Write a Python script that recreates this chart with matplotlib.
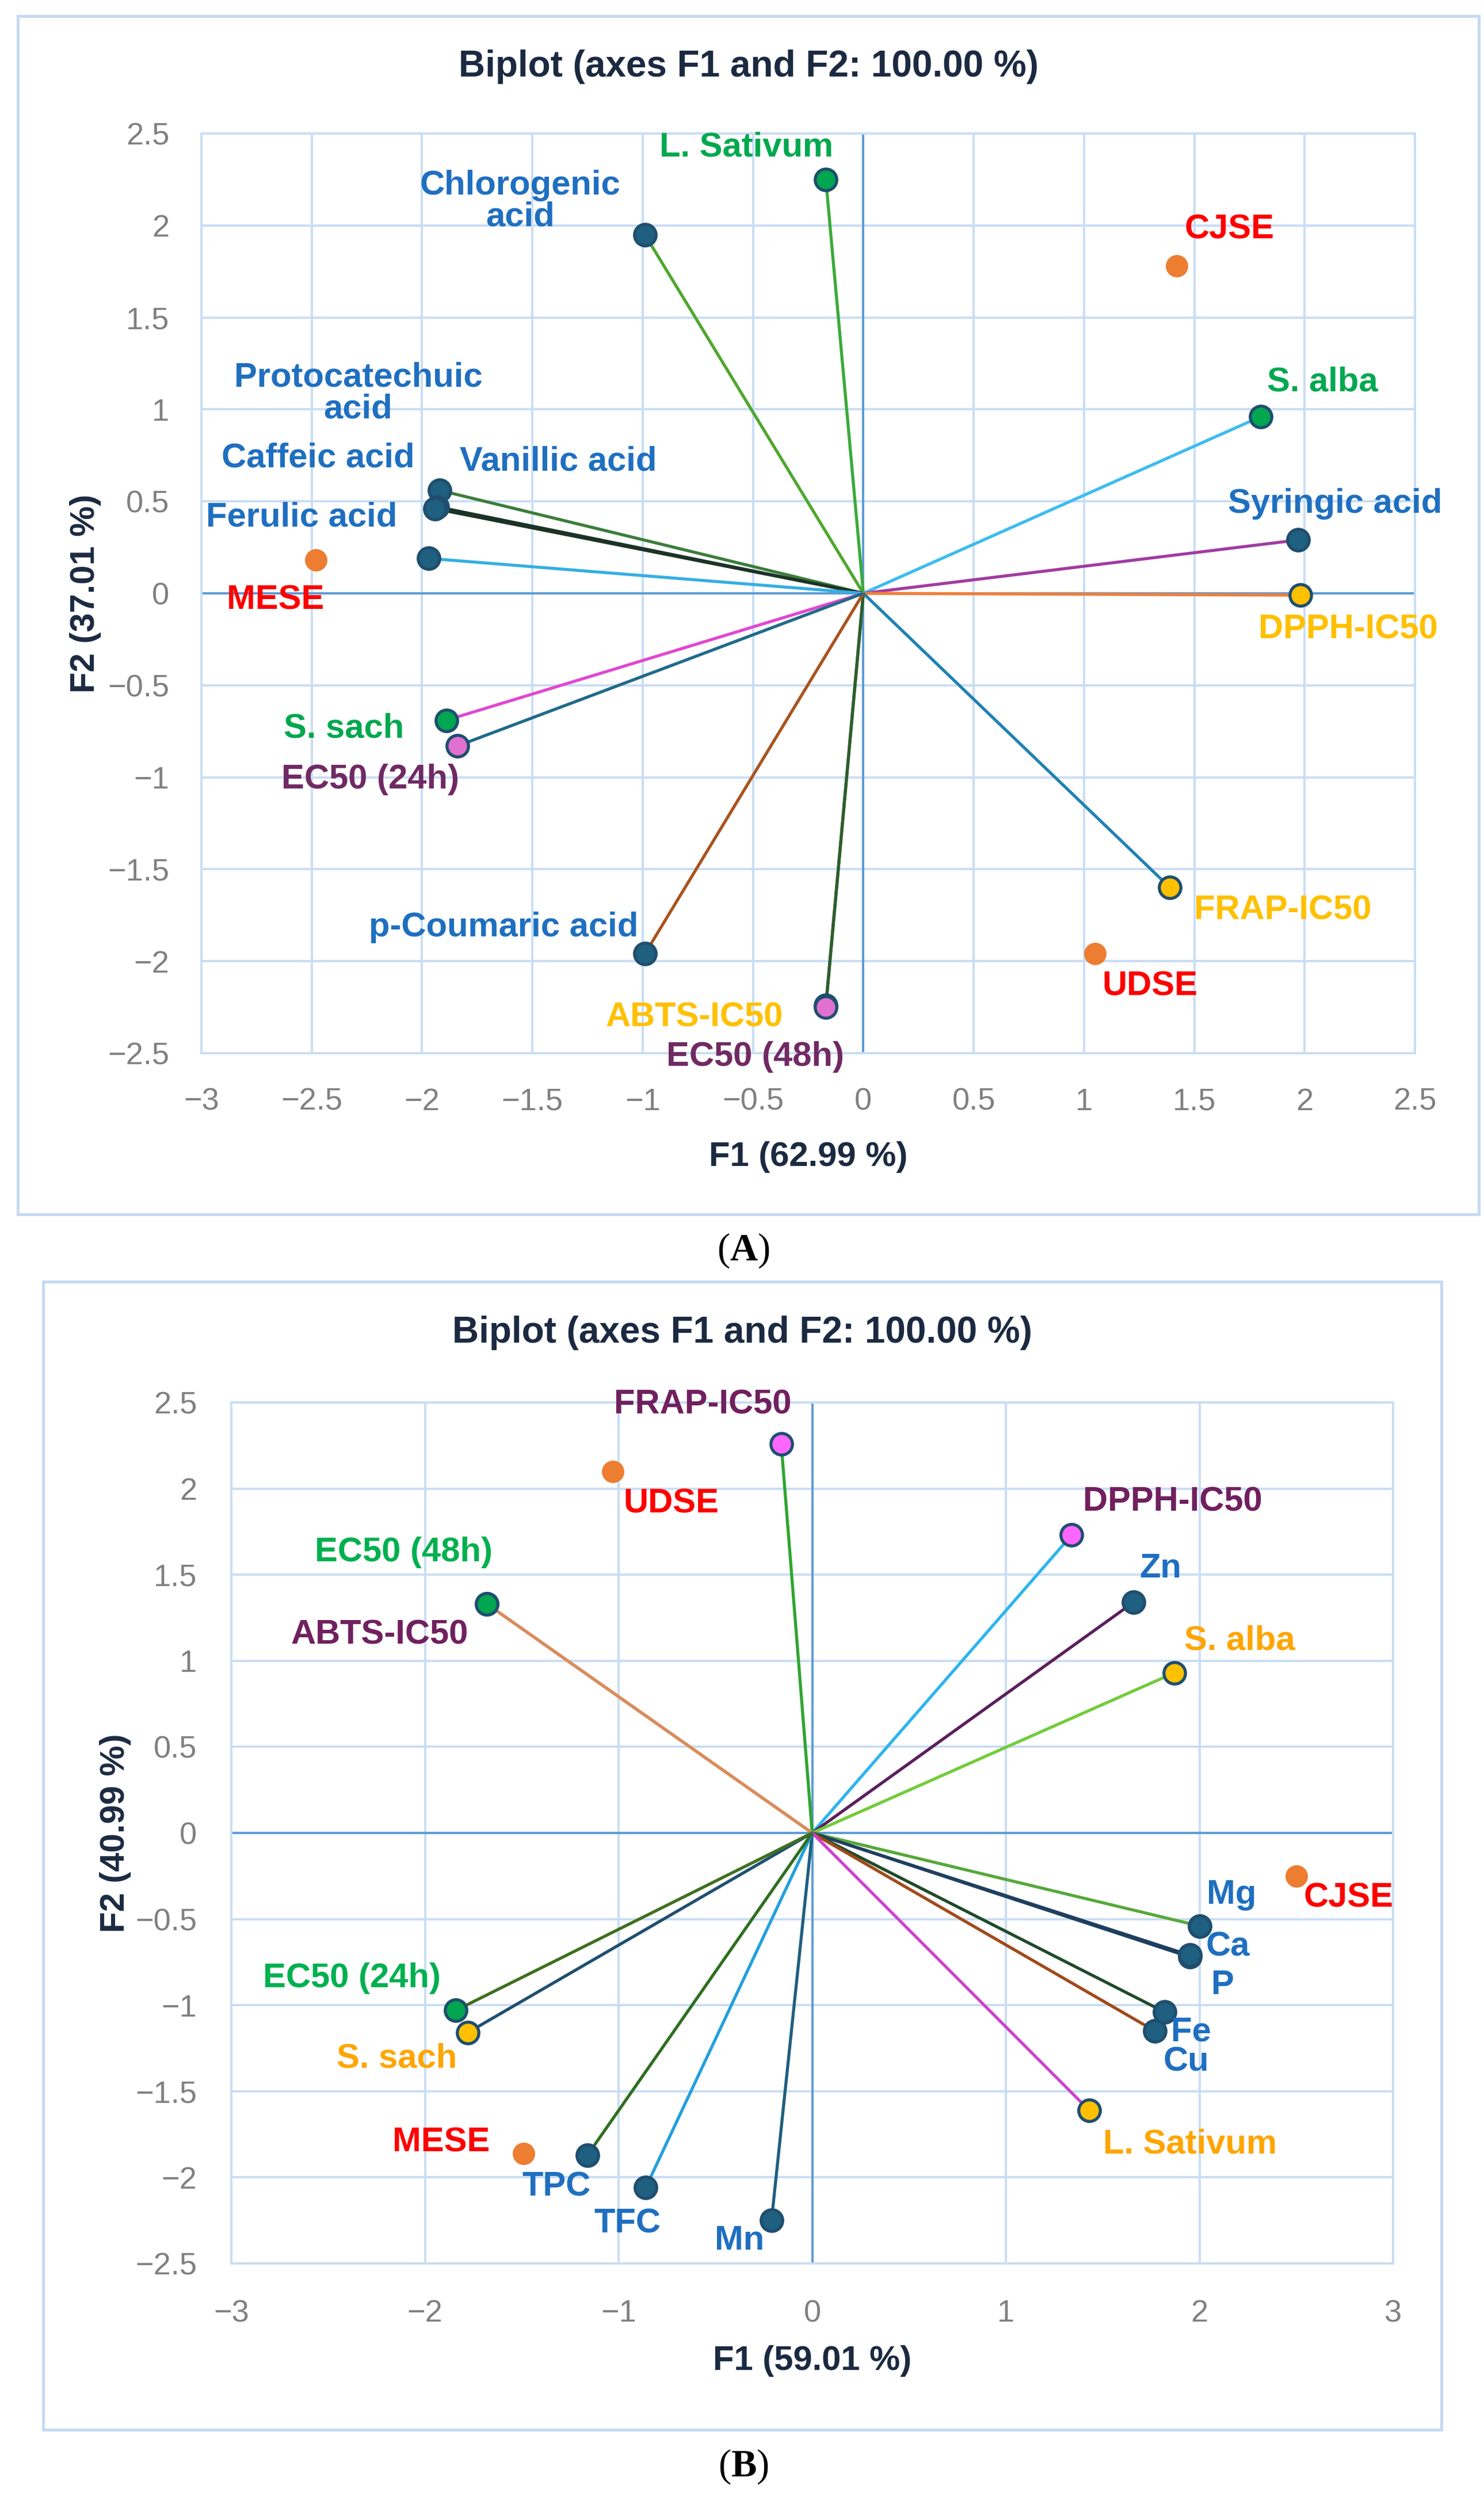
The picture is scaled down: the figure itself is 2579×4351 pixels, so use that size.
import matplotlib
matplotlib.use('Agg')
import matplotlib.pyplot as plt
from matplotlib.patches import Rectangle
from matplotlib.ticker import FuncFormatter

plt.rcParams['font.family'] = ['Liberation Sans', 'DejaVu Sans']
plt.rcParams['mathtext.fontset'] = 'custom'
plt.rcParams['mathtext.rm'] = 'Liberation Serif'
plt.rcParams['mathtext.bf'] = 'Liberation Serif:bold'

W, H = 2579, 4351

# ---------------- Panel A data ----------------
a_title = 'Biplot (axes F1 and F2: 100.00 %)'
a_xlabel = 'F1 (62.99 %)'
a_ylabel = 'F2 (37.01 %)'
a_var_names = ['Chlorogenic acid', 'L. Sativum', 'Vanillic acid', 'Caffeic acid',
               'Protocatechuic acid', 'Ferulic acid', 'S. alba', 'Syringic acid',
               'DPPH-IC50', 'FRAP-IC50', 'ABTS-IC50', 'EC50 (48h)',
               'p-Coumaric acid', 'S. sach', 'EC50 (24h)']
a_var_f1 = [-0.99, -0.17, -1.92, -1.93, -1.94, -1.97, 1.80, 1.97, 1.98, 1.39,
            -0.17, -0.17, -0.99, -1.89, -1.84]
a_var_f2 = [1.95, 2.25, 0.56, 0.47, 0.46, 0.19, 0.96, 0.29, -0.01, -1.60,
            -2.24, -2.25, -1.96, -0.69, -0.83]
a_obs_names = ['MESE', 'CJSE', 'UDSE']
a_obs_f1 = [-2.48, 1.42, 1.05]
a_obs_f2 = [0.18, 1.78, -1.96]
a_xticks = [-3, -2.5, -2, -1.5, -1, -0.5, 0, 0.5, 1, 1.5, 2, 2.5]
a_yticks = [-2.5, -2, -1.5, -1, -0.5, 0, 0.5, 1, 1.5, 2, 2.5]

# ---------------- Panel B data ----------------
b_title = 'Biplot (axes F1 and F2: 100.00 %)'
b_xlabel = 'F1 (59.01 %)'
b_ylabel = 'F2 (40.99 %)'
b_var_names = ['FRAP-IC50', 'ABTS-IC50', 'EC50 (48h)', 'DPPH-IC50', 'Zn', 'S. alba',
               'Mg', 'P', 'Ca', 'Fe', 'Cu', 'L. Sativum', 'Mn', 'TFC', 'TPC',
               'S. sach', 'EC50 (24h)']
b_var_f1 = [-0.16, -1.68, -1.68, 1.34, 1.66, 1.87, 2.00, 1.95, 1.95, 1.82, 1.77,
            1.43, -0.21, -0.86, -1.16, -1.78, -1.84]
b_var_f2 = [2.26, 1.33, 1.33, 1.73, 1.34, 0.93, -0.54, -0.72, -0.71, -1.04, -1.15,
            -1.61, -2.25, -2.06, -1.87, -1.16, -1.03]
b_obs_names = ['UDSE', 'CJSE', 'MESE']
b_obs_f1 = [-1.03, 2.50, -1.49]
b_obs_f2 = [2.10, -0.25, -1.86]
b_xticks = [-3, -2, -1, 0, 1, 2, 3]
b_yticks = [-2.5, -2, -1.5, -1, -0.5, 0, 0.5, 1, 1.5, 2, 2.5]

# ---------------- styles ----------------
GRID = '#c9ddf5'
ZERO = '#5b9bd5'
FRAME = '#c5d9f1'
TICK = '#808080'
DARK = '#1b2a41'
OBS_FILL = '#ed7d31'
OBS_TXT = '#ff0000'
EDGE = '#1f4e6e'

ACID_FILL, ACID_TXT = '#1f5f7f', '#1f6fc0'
A_GREEN_FILL, A_GREEN_TXT = '#00a650', '#00a84f'
A_YEL_FILL, A_YEL_TXT = '#ffc000', '#ffc000'
A_PINK_FILL, A_PURP_TXT = '#e070d0', '#702a63'

# name: (line colour, marker fill, label colour, label text, dx px, dy px)
a_style = {
    'Chlorogenic acid': ('#4ea72e', ACID_FILL, ACID_TXT, 'Chlorogenic\nacid', -217, 58),
    'L. Sativum': ('#3aaa3a', A_GREEN_FILL, A_GREEN_TXT, 'L. Sativum', -138, 56),
    'Vanillic acid': ('#3b7d3b', ACID_FILL, ACID_TXT, 'Vanillic acid', 206, 50),
    'Caffeic acid': ('#1b3326', ACID_FILL, ACID_TXT, 'Caffeic acid', -208, 85),
    'Protocatechuic acid': ('#1b3326', ACID_FILL, ACID_TXT, 'Protocatechuic\nacid', -134, 200),
    'Ferulic acid': ('#35aee3', ACID_FILL, ACID_TXT, 'Ferulic acid', -221, 71),
    'S. alba': ('#3dbcf0', A_GREEN_FILL, A_GREEN_TXT, 'S. alba', 108, 60),
    'Syringic acid': ('#a03ca0', ACID_FILL, ACID_TXT, 'Syringic acid', 64, 63),
    'DPPH-IC50': ('#f07e3a', A_YEL_FILL, A_YEL_TXT, 'DPPH-IC50', 83, -60),
    'FRAP-IC50': ('#2082b2', A_YEL_FILL, A_YEL_TXT, 'FRAP-IC50', 196, -40),
    'ABTS-IC50': ('#4a6a2a', A_YEL_FILL, A_YEL_TXT, 'ABTS-IC50', -228, -21),
    'EC50 (48h)': ('#2e5e2e', A_PINK_FILL, A_PURP_TXT, 'EC50 (48h)', -123, -86),
    'p-Coumaric acid': ('#a8541f', ACID_FILL, ACID_TXT, 'p-Coumaric acid', -246, 46),
    'S. sach': ('#e048d0', A_GREEN_FILL, A_GREEN_TXT, 'S. sach', -178, -14),
    'EC50 (24h)': ('#206a88', A_PINK_FILL, A_PURP_TXT, 'EC50 (24h)', -151, -58),
}
a_obs_style = {'MESE': (-71, -70), 'CJSE': (92, 63), 'UDSE': (95, -57)}

B_PINK_FILL, B_PURP_TXT = '#ff66ff', '#70205f'
B_GREEN_FILL, B_GREEN_TXT = '#00a650', '#00b050'
B_YEL_FILL, B_ORG_TXT = '#ffc000', '#ffa500'
b_style = {
    'FRAP-IC50': ('#2fa52f', B_PINK_FILL, B_PURP_TXT, 'FRAP-IC50', -136, 68),
    'ABTS-IC50': ('#d98c5c', B_PINK_FILL, B_PURP_TXT, 'ABTS-IC50', -186, -54),
    'EC50 (48h)': ('#d98c5c', B_GREEN_FILL, B_GREEN_TXT, 'EC50 (48h)', -145, 90),
    'DPPH-IC50': ('#2cb5ee', B_PINK_FILL, B_PURP_TXT, 'DPPH-IC50', 175, 57),
    'Zn': ('#5b1f5b', ACID_FILL, ACID_TXT, 'Zn', 47, 59),
    'S. alba': ('#72cc3a', B_YEL_FILL, B_ORG_TXT, 'S. alba', 114, 56),
    'Mg': ('#56a83a', ACID_FILL, ACID_TXT, 'Mg', 56, 54),
    'P': ('#1f3f5f', ACID_FILL, ACID_TXT, 'P', 57, -49),
    'Ca': ('#1f3f5f', ACID_FILL, ACID_TXT, 'Ca', 66, 14),
    'Fe': ('#1f4a2a', ACID_FILL, ACID_TXT, 'Fe', 46, -35),
    'Cu': ('#a04a1a', ACID_FILL, ACID_TXT, 'Cu', 54, -54),
    'L. Sativum': ('#cc44cc', B_YEL_FILL, B_ORG_TXT, 'L. Sativum', 175, -59),
    'Mn': ('#1f5f7f', ACID_FILL, ACID_TXT, 'Mn', -56, -35),
    'TFC': ('#22a0dd', ACID_FILL, ACID_TXT, 'TFC', -32, -63),
    'TPC': ('#2f6f1f', ACID_FILL, ACID_TXT, 'TPC', -54, -55),
    'S. sach': ('#1f4f6f', B_YEL_FILL, B_ORG_TXT, 'S. sach', -123, -45),
    'EC50 (24h)': ('#3f6f1f', B_GREEN_FILL, B_GREEN_TXT, 'EC50 (24h)', -181, 56),
}
b_obs_style = {'UDSE': (101, -56), 'CJSE': (91, -38), 'MESE': (-143, 19)}


def fmt(v, pos):
    return f'{v:g}'.replace('-', '\u2212')


def draw_panel(fig, rect, frame, title, title_y, xlabel, xlabel_y, ylabel, ylabel_x,
               names, f1, f2, style, obs_names, o1, o2, obs_style,
               xticks, yticks, xpad, ypad):
    # outer chart frame
    fig.patches.append(Rectangle((frame[0] / W, 1 - frame[3] / H),
                                 (frame[2] - frame[0]) / W, (frame[3] - frame[1]) / H,
                                 transform=fig.transFigure, fill=False,
                                 ec=FRAME, lw=3.6, zorder=0))
    l, t, r, b = rect
    ax = fig.add_axes([l / W, 1 - b / H, (r - l) / W, (b - t) / H])
    ax.set_xlim(xticks[0], xticks[-1])
    ax.set_ylim(yticks[0], yticks[-1])
    ax.set_xticks(xticks)
    ax.set_yticks(yticks)
    ax.xaxis.set_major_formatter(FuncFormatter(fmt))
    ax.yaxis.set_major_formatter(FuncFormatter(fmt))
    ax.tick_params(length=0, labelsize=39, labelcolor=TICK)
    ax.tick_params(axis='x', pad=xpad)
    ax.tick_params(axis='y', pad=ypad)
    ax.grid(True, color=GRID, lw=2.8, zorder=0)
    ax.set_axisbelow(True)
    for s in ax.spines.values():
        s.set_color(GRID)
        s.set_linewidth(2.8)
    ax.axhline(0, color=ZERO, lw=2.8, zorder=1)
    ax.axvline(0, color=ZERO, lw=2.8, zorder=1)

    for n, x, y in zip(names, f1, f2):
        lc = style[n][0]
        ax.plot([0, x], [0, y], color=lc, lw=3.8, zorder=2, solid_capstyle='butt')
    for n, x, y in zip(names, f1, f2):
        lc, fc, tc, txt, dx, dy = style[n]
        ax.plot([x], [y], 'o', ms=27, mfc=fc, mec=EDGE, mew=3.8, zorder=4)
        ax.annotate(txt, (x, y), xytext=(dx, dy), textcoords='offset pixels',
                    ha='center', va='center', color=tc, fontsize=43,
                    fontweight='bold', linespacing=1.0, zorder=5)
    for n, x, y in zip(obs_names, o1, o2):
        dx, dy = obs_style[n]
        ax.plot([x], [y], 'o', ms=28, mfc=OBS_FILL, mec=OBS_FILL, mew=0, zorder=3)
        ax.annotate(n, (x, y), xytext=(dx, dy), textcoords='offset pixels',
                    ha='center', va='center', color=OBS_TXT, fontsize=43,
                    fontweight='bold', zorder=5)

    cx = (frame[0] + frame[2]) / 2 / W
    fig.text(cx, 1 - title_y / H, title, ha='center', va='center',
             fontsize=46, fontweight='bold', color=DARK)
    fig.text((l + r) / 2 / W, 1 - xlabel_y / H, xlabel, ha='center', va='center',
             fontsize=43, fontweight='bold', color=DARK)
    fig.text(ylabel_x / W, 1 - (t + b) / 2 / H, ylabel, ha='center', va='center',
             rotation=90, fontsize=43, fontweight='bold', color=DARK)
    return ax


fig = plt.figure(figsize=(W / 100, H / 100), dpi=100)
fig.patch.set_facecolor('white')

draw_panel(fig, (350, 232, 2459, 1830), (31, 28, 2570, 2110),
           a_title, 116, a_xlabel, 2010, a_ylabel, 149,
           a_var_names, a_var_f1, a_var_f2, a_style,
           a_obs_names, a_obs_f1, a_obs_f2, a_obs_style,
           a_xticks, a_yticks, 43, 40)

draw_panel(fig, (402, 2437, 2421, 3933), (75, 2227, 2505, 4222),
           b_title, 2316, b_xlabel, 4103, b_ylabel, 201,
           b_var_names, b_var_f1, b_var_f2, b_style,
           b_obs_names, b_obs_f1, b_obs_f2, b_obs_style,
           b_xticks, b_yticks, 45, 43)

fig.text(1292 / W, 1 - 2173 / H, r'($\mathbf{A}$)', ha='center', va='center',
         fontsize=48, family='Liberation Serif')
fig.text(1292 / W, 1 - 4286 / H, r'($\mathbf{B}$)', ha='center', va='center',
         fontsize=48, family='Liberation Serif')

fig.savefig('out.png', dpi=100, facecolor='white')
